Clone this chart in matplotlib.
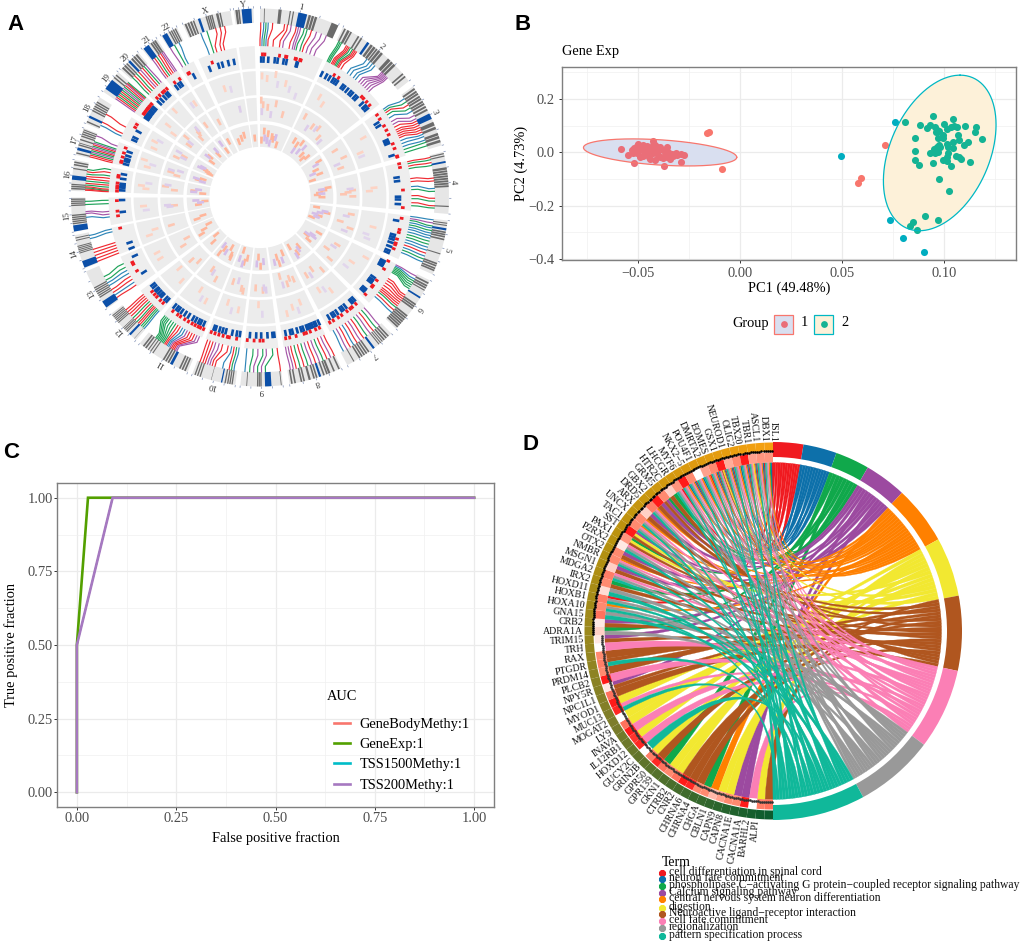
import numpy as np
import matplotlib
matplotlib.use('Agg')
import matplotlib.pyplot as plt
from matplotlib.colors import LinearSegmentedColormap
from matplotlib.patches import Wedge, PathPatch, Rectangle
from matplotlib.path import Path

plt.rcParams['font.family'] = ['Liberation Serif', 'DejaVu Serif']

W, H = 1024, 942

# ---- panel A: chromosomes, sector limits in degrees clockwise from the top
CHROMS = ['1', '2', '3', '4', '5', '6', '7', '8', '9', '10', '11', '12', '13', '14',
          '15', '16', '17', '18', '19', '20', '21', '22', 'X', 'Y']
CHROM_START = [0, 26, 54, 76, 97, 116, 136, 154.5, 173, 187.5, 202.5, 221, 234, 248,
               259.5, 272, 283, 293, 304, 312.5, 321.5, 328.5, 336, 352]
CHROM_END = [24.5, 52, 74, 95, 114, 134, 152.5, 171, 186, 201, 219.5, 232, 247, 258.5,
             270, 281.5, 291.5, 302, 311.5, 320, 327, 334, 351, 358]

# (start %, width %) of the dark bands and the blue bands in each chromosome
IDEO_DARK = {
    '1': [(5, 1), (23, 4), (37, 1.5), (41, 1.5), (61, 3), (65, 3), (69, 3), (91, 9)],
    '2': [(2, 2), (6, 3), (10, 2), (20, 2), (24, 2), (38, 3), (42, 3), (46, 2), (49, 3), (53, 3),
          (64, 4), (69, 3), (73, 3), (88, 2), (92, 2)],
    '3': [(3, 3), (8, 3), (12, 3), (17, 3), (21, 3), (26, 3), (30, 3), (35, 3), (40, 3), (62, 6),
          (70, 4), (80, 4), (85, 4), (91, 4)],
    '4': [(2, 2), (6, 2), (25, 4), (30, 3), (34, 3), (38, 3), (42, 3), (46, 3), (50, 3), (54, 3), (87, 2)],
    '5': [(4, 2), (8, 2), (20, 3), (24, 3), (28, 3), (33, 3), (60, 2), (78, 3), (82, 3), (87, 3), (91, 3)],
    '6': [(4, 3), (9, 3), (13, 3), (18, 2), (46, 3), (50, 3), (54, 3), (70, 3), (74, 3), (78, 3),
          (82, 3), (86, 3), (90, 3), (94, 3)],
    '7': [(6, 3), (11, 3), (16, 3), (21, 2), (25, 2), (29, 2), (52, 3), (57, 3), (62, 3), (67, 3),
          (72, 3), (85, 2)],
    '8': [(3, 3), (13, 3), (22, 4), (27, 3), (33, 3), (47, 3), (52, 3), (60, 4), (71, 3), (76, 3),
          (88, 3), (94, 3)],
    '9': [(3, 2), (50, 3), (54, 3), (58, 3), (84, 2)],
    '10': [(6, 3), (11, 3), (16, 3), (22, 3), (55, 1), (80, 3), (86, 3), (92, 3)],
    '11': [(4, 3), (9, 3), (14, 3), (37, 3), (42, 3), (47, 3), (70, 2), (75, 2), (80, 2), (85, 3), (90, 3)],
    '12': [(6, 1), (33, 3), (38, 3), (43, 3), (48, 2), (67, 3), (72, 3), (77, 3), (82, 3), (87, 3), (92, 3)],
    '13': [(30, 3), (35, 3), (40, 3), (45, 3), (50, 3), (55, 3)],
    '14': [(45, 3), (50, 3), (55, 3), (60, 3), (65, 3), (83, 3), (90, 3)],
    '15': [(22, 4), (28, 4), (34, 4), (40, 4), (46, 4), (75, 4), (81, 4), (87, 4), (93, 4)],
    '16': [(5, 5), (12, 5), (19, 4), (70, 4), (82, 5), (90, 5)],
    '17': [(5, 5), (35, 5), (43, 3), (55, 5), (68, 5), (76, 5), (84, 5), (92, 4)],
    '18': [(5, 5), (47, 5), (55, 5), (63, 5), (71, 5), (79, 5)],
    '19': [(70, 6), (82, 6)],
    '20': [(8, 8), (20, 8), (32, 6), (60, 8), (72, 8), (84, 8)],
    '21': [(55, 10), (68, 10), (80, 10)],
    '22': [(48, 8), (60, 8), (72, 8), (84, 8)],
    'X': [(3, 4), (9, 4), (15, 4), (21, 3), (48, 3), (52, 3), (56, 3), (60, 3), (70, 5), (77, 3)],
    'Y': [(8, 12), (22, 8)],
}
IDEO_BLUE = {
    '1': (48, 11), '2': (33, 3), '3': (48, 9), '4': (15, 3), '5': (14, 4), '6': (32, 3), '7': (40, 4),
    '8': (40, 4), '9': (27, 15), '10': (30, 3), '11': (30, 5), '12': (20, 6), '13': (3, 17), '14': (2, 20),
    '15': (1, 18), '16': (36, 14), '17': (18, 10), '18': (22, 8), '19': (15, 45), '20': (44, 10),
    '21': (8, 35), '22': (6, 30), 'X': (32, 5), 'Y': (40, 50),
}

# connector lines: colour letters, % along the ideogram, % along the bar track
LINK_COLORS = {
    '1': 'rbgbrrrprppggrppp', '2': 'gggrrrggrrrbbbbpppppp', '3': 'bgrgbpprrrrrrbbbgg', '4': 'rgrgrrbgrgrg',
    '5': 'bpgbgbbbggbbrbgb', '6': 'pbgggggrrrrrrrgrb', '7': 'pgrpgrprbrpb', '8': 'rprgprpgrgrpp',
    '9': 'rgpgpgb', '10': 'bgrbrrpprrr', '11': 'pprrrpbbrrggggggg', '12': 'bggrrgrgrrrr',
    '13': 'rbrrbbgg', '14': 'rrrrrbb', '15': 'bppgg', '16': 'rrgrgrgrrgrg',
    '17': 'rrgpgrpgrpgp', '18': 'brr', '19': 'prgrgrgpgrprg', '20': 'grgrprgp',
    '21': 'prgrrpp', '22': 'pgb', 'X': 'bgrrr', 'Y': '',
}
LINK_FROM = {
    '1': [1, 5, 8, 11, 17, 33, 37, 42, 49, 52, 55, 60, 64, 70, 77, 84, 91],
    '2': [3, 5, 7, 14, 16, 18, 20, 23, 25, 27, 29, 45, 50, 54, 58, 70, 72, 74, 76, 78, 80],
    '3': [8, 14, 20, 26, 32, 40, 46, 50, 54, 58, 62, 66, 70, 74, 78, 84, 88, 94],
    '4': [4, 8, 13, 18, 40, 45, 58, 63, 75, 80, 88, 92],
    '5': [2, 8, 14, 18, 23, 28, 33, 38, 44, 50, 56, 62, 68, 74, 80, 86],
    '6': [4, 10, 14, 18, 22, 26, 30, 44, 48, 52, 56, 60, 64, 68, 72, 78, 84],
    '7': [6, 14, 22, 30, 38, 46, 54, 62, 70, 78, 86, 94],
    '8': [2, 10, 18, 26, 34, 42, 50, 58, 66, 74, 82, 88, 94],
    '9': [2, 40, 50, 60, 70, 80, 92],
    '10': [8, 14, 20, 36, 55, 62, 68, 74, 80, 86, 93],
    '11': [35, 38, 41, 44, 47, 50, 53, 56, 59, 62, 65, 68, 71, 74, 77, 80, 83],
    '12': [4, 10, 16, 22, 28, 34, 42, 50, 58, 66, 74, 82],
    '13': [8, 16, 24, 32, 44, 52, 60, 70],
    '14': [5, 15, 25, 35, 45, 80, 90],
    '15': [38, 50, 56, 78, 88],
    '16': [4, 8, 12, 16, 22, 28, 36, 44, 52, 60, 68, 76],
    '17': [5, 12, 18, 24, 30, 36, 42, 48, 54, 60, 66, 90],
    '18': [15, 28, 60],
    '19': [5, 13, 21, 29, 37, 45, 53, 61, 69, 77, 85, 90, 95],
    '20': [10, 22, 34, 46, 58, 70, 80, 90],
    '21': [10, 25, 40, 55, 70, 80, 90],
    '22': [10, 40, 70],
    'X': [28, 42, 62, 72, 82],
    'Y': [],
}
LINK_TO = {
    '1': [0, 3, 6, 9, 12, 20, 30, 35, 45, 50, 53, 56, 62, 66, 72, 78, 85],
    '2': [1, 3, 5, 8, 10, 12, 14, 16, 18, 20, 24, 35, 40, 46, 50, 56, 60, 64, 68, 72, 76],
    '3': [2, 6, 10, 15, 22, 30, 36, 42, 48, 52, 56, 60, 64, 70, 76, 82, 88, 94],
    '4': [2, 6, 11, 16, 36, 42, 52, 58, 70, 76, 84, 90],
    '5': [1, 6, 10, 15, 20, 25, 30, 36, 42, 48, 54, 60, 66, 72, 78, 84],
    '6': [2, 5, 8, 11, 14, 17, 20, 35, 40, 46, 52, 58, 62, 66, 70, 76, 82],
    '7': [4, 12, 20, 28, 36, 44, 52, 60, 68, 76, 84, 92],
    '8': [4, 12, 20, 28, 36, 44, 52, 60, 68, 76, 84, 90, 96],
    '9': [4, 18, 36, 46, 60, 74, 92],
    '10': [3, 10, 17, 24, 34, 50, 60, 70, 78, 86, 94],
    '11': [6, 12, 18, 24, 30, 36, 42, 48, 54, 60, 66, 72, 78, 84, 88, 92, 96],
    '12': [6, 12, 18, 24, 30, 36, 44, 52, 60, 68, 76, 84],
    '13': [6, 16, 26, 36, 46, 56, 66, 78],
    '14': [5, 15, 25, 35, 45, 85, 95],
    '15': [30, 40, 50, 78, 90],
    '16': [2, 5, 8, 12, 20, 28, 36, 44, 55, 65, 78, 90],
    '17': [3, 10, 17, 24, 30, 36, 42, 48, 54, 60, 66, 80],
    '18': [10, 22, 52],
    '19': [4, 12, 20, 28, 36, 44, 52, 60, 68, 76, 84, 90, 96],
    '20': [5, 18, 30, 44, 56, 68, 80, 92],
    '21': [5, 20, 35, 50, 65, 80, 92],
    '22': [15, 40, 60],
    'X': [30, 42, 50, 62, 70],
    'Y': [],
}

# bar track, % along each chromosome
BARS_BLUE = {
    '1': [2, 6, 14, 25, 30, 40, 45, 62, 64], '2': [2, 10, 16, 22, 26, 30, 40, 44, 50, 56, 60, 66, 70, 82, 88, 90, 94],
    '3': [18, 25, 58, 62, 66, 92], '4': [30, 38, 72, 78, 88], '5': [15, 50, 56, 62, 70, 80, 90, 96],
    '6': [6, 10, 14, 18, 50, 56, 60, 64, 82, 86, 90], '7': [8, 14, 18, 36, 44, 50, 62, 70, 76, 86],
    '8': [2, 10, 14, 20, 25, 30, 35, 44, 50, 60, 72, 78, 90], '9': [8, 14, 30, 50, 66, 86],
    '10': [6, 16, 30, 50, 60, 70, 82, 88], '11': [8, 16, 22, 30, 38, 50, 60, 70, 78, 84, 92],
    '12': [8, 18, 34, 42, 52, 62, 68, 80, 90], '13': [25, 85], '14': [5, 28], '15': [43, 90],
    '16': [10, 22, 30, 38, 60, 80], '17': [10, 24, 30, 36, 52, 72], '18': [15, 28, 60],
    '19': [10, 18, 28, 38, 50, 60, 72, 84], '20': [10, 30, 52, 70, 82], '21': [25, 50, 70], '22': [55],
    'X': [18, 44, 55, 72, 88], 'Y': [],
}
BARS_RED = {
    '1': [4, 8, 32, 42, 44, 58, 60, 66, 68], '2': [20, 28, 74, 78, 85, 92], '3': [4, 14, 30, 40, 50, 70, 80, 96, 98],
    '4': [2, 10, 58, 95], '5': [8, 35, 42, 58, 68, 72, 82], '6': [2, 22, 52, 66, 70, 92],
    '7': [12, 24, 30, 40, 56, 66, 80, 90], '8': [6, 16, 30, 40, 46, 66, 82, 92], '9': [44, 54, 72, 93],
    '10': [14, 36, 42, 55, 68, 80, 92], '11': [4, 12, 18, 26, 34, 44, 54, 66, 74, 88], '12': [14, 28, 46, 58, 72],
    '13': [40, 63, 70], '14': [92], '15': [30, 48, 88], '16': [6, 18, 28, 40, 65, 72],
    '17': [14, 20, 40, 60, 85], '18': [70, 85], '19': [22, 32, 44, 56, 64, 76, 90], '20': [20, 40, 62, 75, 92],
    '21': [35, 80], '22': [25, 35], 'X': [30], 'Y': [],
}

# heat tracks: (track, % along chromosome, radial level 0-10)
HEAT_SALMON = {
    '1': [(1, 4, 8), (1, 14, 7), (1, 30, 9), (1, 52, 6), (2, 3, 9), (2, 8, 7), (2, 20, 6), (2, 40, 8), (3, 6, 3), (3, 15, 7),
          (3, 30, 6), (3, 45, 5), (3, 52, 4), (3, 70, 2), (2, 62, 4)],
    '2': [(1, 18, 6), (1, 30, 4), (2, 12, 7), (2, 40, 5), (2, 55, 6), (2, 70, 3), (3, 20, 7), (3, 34, 6), (3, 45, 8), (3, 70, 4),
          (3, 82, 3), (3, 90, 5)],
    '3': [(1, 30, 7), (1, 60, 3), (2, 20, 5), (2, 52, 7), (2, 80, 4), (3, 22, 8), (3, 50, 5), (3, 72, 6), (3, 90, 2)],
    '4': [(1, 48, 5), (1, 56, 3), (2, 50, 7), (2, 56, 5), (2, 62, 3), (2, 70, 7), (3, 30, 8), (3, 40, 6), (3, 50, 4), (3, 60, 3),
          (3, 72, 5)],
    '5': [(1, 45, 6), (2, 20, 7), (2, 55, 3), (2, 70, 8), (3, 15, 3), (3, 36, 8), (3, 60, 5), (3, 80, 2)],
    '6': [(1, 20, 8), (1, 50, 4), (2, 30, 6), (2, 62, 3), (2, 85, 7), (3, 28, 8), (3, 70, 4), (3, 84, 6)],
    '7': [(1, 40, 6), (1, 70, 3), (2, 20, 8), (2, 50, 5), (2, 80, 6), (3, 34, 5), (3, 60, 7), (3, 82, 3)],
    '8': [(1, 28, 4), (1, 55, 5), (1, 75, 7), (2, 20, 5), (2, 35, 4), (2, 48, 6), (2, 70, 2), (3, 22, 4), (3, 55, 8), (3, 60, 5)],
    '9': [(1, 60, 2), (2, 40, 7), (2, 75, 6), (3, 50, 8), (3, 65, 4)],
    '10': [(1, 25, 5), (1, 70, 3), (2, 20, 8), (2, 30, 7), (2, 75, 5), (3, 30, 5), (3, 45, 7), (3, 70, 2)],
    '11': [(1, 30, 6), (1, 60, 3), (2, 35, 7), (2, 65, 4), (3, 20, 7), (3, 25, 6), (3, 40, 3), (3, 70, 5), (3, 80, 8)],
    '12': [(1, 20, 5), (1, 70, 2), (2, 25, 5), (2, 60, 7), (3, 50, 6), (3, 80, 3)],
    '13': [(1, 35, 6), (1, 60, 6), (2, 30, 6), (2, 55, 3), (3, 30, 8), (3, 50, 6), (3, 70, 3)],
    '14': [(1, 30, 6), (1, 50, 3), (2, 45, 7), (3, 30, 7), (3, 45, 4)],
    '15': [(1, 60, 6), (2, 50, 4), (3, 38, 5), (3, 65, 2)],
    '16': [(1, 25, 5), (1, 40, 7), (2, 30, 4), (2, 50, 8), (3, 20, 3), (3, 40, 7)],
    '17': [(1, 25, 6), (1, 60, 8), (2, 20, 4), (2, 35, 7), (3, 35, 6), (3, 55, 4)],
    '18': [(1, 20, 6), (1, 55, 7), (2, 30, 7), (2, 60, 4), (3, 20, 2), (3, 30, 3), (3, 38, 4), (3, 46, 5)],
    '19': [(1, 30, 2), (1, 55, 6), (2, 30, 5), (2, 70, 8), (3, 30, 4), (3, 70, 6)],
    '20': [(1, 40, 8), (2, 35, 3), (2, 60, 6), (2, 50, 5), (3, 45, 4)],
    '21': [(1, 70, 5), (2, 30, 6), (3, 60, 3)],
    '22': [(2, 55, 4), (3, 40, 6)],
    'X': [(1, 40, 5), (3, 22, 4), (3, 45, 5), (3, 65, 6)],
    'Y': [(3, 50, 4)],
}
HEAT_LAVENDER = {
    '1': [(1, 36, 5), (1, 62, 4), (1, 78, 2), (2, 5, 4), (2, 30, 3), (3, 18, 4), (3, 28, 3), (3, 40, 2), (3, 60, 5)],
    '2': [(2, 30, 3), (2, 50, 5), (2, 80, 2), (3, 35, 3), (3, 52, 4), (3, 60, 7)],
    '3': [(1, 70, 3), (2, 65, 3), (3, 30, 6), (3, 62, 3)],
    '4': [(2, 45, 6), (3, 35, 5), (3, 55, 5)],
    '5': [(1, 70, 4), (1, 82, 5), (2, 30, 5), (2, 85, 6), (3, 30, 7), (3, 42, 5), (3, 55, 3), (3, 70, 4)],
    '6': [(1, 70, 3), (2, 42, 5), (3, 50, 6), (3, 58, 7), (3, 62, 4)],
    '7': [(1, 55, 4), (2, 65, 7), (3, 45, 6), (3, 70, 8)],
    '8': [(1, 40, 7), (2, 65, 6), (3, 35, 7), (3, 78, 7)],
    '9': [(1, 45, 6), (2, 25, 7), (2, 35, 6), (3, 30, 6), (3, 75, 7)],
    '10': [(1, 50, 6), (2, 50, 4), (3, 55, 8), (3, 80, 6)],
    '11': [(1, 45, 6), (2, 55, 5), (3, 55, 6), (3, 85, 4)],
    '15': [(1, 40, 5), (2, 45, 6), (2, 55, 7), (3, 55, 4), (3, 75, 6)],
    '16': [(1, 55, 4), (2, 60, 7), (3, 30, 7), (3, 55, 5)],
    '17': [(1, 45, 4), (2, 50, 7), (2, 60, 3), (3, 45, 7), (3, 25, 4)],
    '18': [(1, 70, 5), (2, 45, 4), (2, 70, 7), (3, 40, 7), (3, 55, 6)],
    '19': [(2, 55, 5), (3, 55, 7)],
    '20': [(2, 65, 7), (3, 60, 6)],
    '21': [(1, 40, 5), (3, 45, 7)],
    'X': [(1, 60, 4), (2, 75, 6)],
}

# ---- panel B: PCA scores
G1_IN_X = [-.0582, -.0549, -.0531, -.052, -.0498, -.049, -.0474, -.0458, -.0425, -.0428, -.0408, -.0392, -.0359, -.0376,
           -.0351, -.0315, -.0289, -.0275, -.0291, -.0343, -.0327, -.0417, -.0444, -.0474, -.0507, -.0523, -.049, -.0458,
           -.0433, -.0408, -.0392, -.0368, -.0449, -.0466, -.0482, -.0425, -.04, -.0376, -.0359, -.0335, -.031, -.0515,
           -.0441, -.0503, -.0417, -.0521, -.0374]
G1_IN_Y = [.014, -.011, .009, .015, .031, .009, .0275, .024, .0425, .0275, .021, .019, .021, .009,
           .0025, -.001, -.0075, -.01, -.035, -.026, -.014, -.029, -.016, -.014, -.004, -.004, -.016, .0025,
           .009, .0025, -.016, -.01, .015, -.004, .015, -.004, -.01, -.0225, -.016, -.006, -.01, .0025,
           -.026, .024, .0275, -.039, -.05]
G1_OUT_X = [-.016, -.0154, -.009, .0711, .0593, .0578]
G1_OUT_Y = [.071, .0775, -.0625, .0275, -.095, -.115]
G2_IN_X = [.0948, .1042, .0809, .0882, .0918, .0931, .0954, .0964, .1002, .0977, .1016, .1033, .1049, .1065, .1105, .1157,
           .115, .1186, .0858, .0961, .0997, .1069, .0971, .0993, .1075, .1116, .1098, .1046, .1013, .0977, .0964, .0951,
           .098, .1021, .1042, .102, .0859, .0931, .0956, .0969, .1059, .1072, .1082, .1126, .0858, .0879, .0948, .0993,
           .1013, .1033, .1016, .0975, .1025, .0907, .0972, .085, .0835, .0866]
G2_IN_Y = [.136, .125, .1125, .101, .0925, .101, .096, .084, .1075, .081, .086, .094, .0975, .095, .1, .096,
           .076, .051, .0525, .076, .065, .064, .0525, .054, .045, .04, .0275, .039, .031, .0275, .019, .011,
           .021, .021, .016, -.004, .004, -.004, -.004, .0025, -.0125, -.019, -.026, -.035, -.03, -.049, -.04, -.0275,
           -.031, -.051, -.016, -.1, -.146, -.239, -.254, -.259, -.276, -.29]
G2_OUT_X = [.0761, .0734, .0797, .0904, .0493]
G2_OUT_Y = [.115, -.2525, -.321, -.3725, -.015]

# ---- panel C: ROC curves
ROC_NAMES = ['GeneBodyMethy:1', 'GeneExp:1', 'TSS1500Methy:1', 'TSS200Methy:1']
ROC_COLORS = ['#f8766d', '#53a000', '#00bcc8', '#a678c0']
ROC_X = [[0, 0, .09, 1], [0, 0, .028, 1], [0, 0, .09, 1], [0, 0, .09, 1]]
ROC_Y = [[0, .5, 1, 1], [0, .5, 1, 1], [0, .5, 1, 1], [0, .5, 1, 1]]

# ---- panel D: chord diagram, genes listed from the bottom clockwise
GENES = ['ALPI', 'BARHL2', 'CACNA1A', 'CACNA1E', 'CAPN8', 'CAPN9', 'CBLN1', 'CHGA', 'CHRNA4', 'CHRNA6', 'CNR2', 'CTRB2',
         'GKN1', 'GPR139', 'GPR50', 'GRIN2B', 'GUCY2C', 'HOXD12', 'IL12RB1', 'INAVA', 'LY9', 'MOGAT2', 'MUC13', 'MYOD1',
         'NPC1L1', 'NPY5R', 'PLCB2', 'PRDM14', 'PTGDR', 'RAX', 'TRH', 'TRIM15', 'ADRA1A', 'CRB2', 'GNA15', 'HOXA10',
         'HOXB1', 'HOXD11', 'IRX2', 'MDGA2', 'MSGN1', 'NMBR', 'OTX2', 'P2RX2', 'PAX1', 'SST', 'TAC1', 'UNCX', 'ARX',
         'DRD5', 'GBX2', 'GRM5', 'HTR2C', 'LHCGR', 'MYF6', 'NKX2\u22125', 'POU4F1', 'DMRTA2', 'EOMES', 'GSX1', 'NEUROD1',
         'OLIG2', 'TBX20', 'TBR1', 'ASCL1', 'DBX1', 'ISL1']
# terms hit by each gene, digits index TERMS
GENE_TERMS = ['6', '5', '7', '3', '3', '5', '5', '4', '2', '6', '6', '6',
              '5', '5', '2', '6', '5', '9', '7', '5', '7', '5', '5', '79',
              '5', '6', '36', '7', '6', '69', '6', '7', '36', '28', '36', '89',
              '489', '089', '89', '26', '789', '36', '4789', '36', '789', '256', '356', '4789', '4789',
              '36', '4789', '36', '236', '26', '0789', '14789', '014789', '14789', '04789', '014789', '01456789',
              '014789', '14789', '014789', '0145789', '014789', '0124789']
LOGFC = [.6, .55, 1, .95, .5, .5, .4, .3, .5, .5, .9, .95, .6, .5, .6, .9, .55, 1, .9, .85, .95, .6, 1, .9,
         .95, .6, .1, .95, .5, .55, .5, 1, .1, .2, .1, .6, .5, .55, .15, .5, .55, .2, .5, .5, .1, .45, .95, .5, .5,
         .2, .55, .95, .5, .2, .45, .95, .5, 1, .4, .5, .95, .35, .5, .95, .4, .45, .45]
TERMS = ['cell differentiation in spinal cord', 'neuron fate commitment',
         'phospholipase C\u2212activating G protein\u2212coupled receptor signaling pathway',
         'Calcium signaling pathway', 'central nervous system neuron differentiation', 'digestion',
         'Neuroactive ligand\u2212receptor interaction', 'cell fate commitment', 'regionalization',
         'pattern specification process']
TERM_COLORS = ['#f01a20', '#0d70aa', '#10a84b', '#9c4aa0', '#ff8000', '#f2e831', '#b0561f', '#fb7fb5', '#999999', '#10b89a']
TERM_EDGES = [0, 9.3, 19.6, 30.1, 43, 61, 79.2, 102.2, 127, 151.5, 180]


def px_axes(fig, left, top, right, bottom):
    return fig.add_axes([left / W, 1 - bottom / H, (right - left) / W, (bottom - top) / H])


def polar(theta, r):
    t = np.radians(theta)
    return r * np.sin(t), r * np.cos(t)


def sector(ax, t0, t1, r0, r1, color, zorder=1):
    # angles run clockwise from the top, Wedge wants them counter clockwise from east
    ax.add_patch(Wedge((0, 0), r1, 90 - t1, 90 - t0, width=r1 - r0, facecolor=color, lw=0, zorder=zorder))


def style_ggplot(ax):
    for s in ax.spines.values():
        s.set_color('#7f7f7f')
        s.set_linewidth(1.0)
    ax.grid(True, which='major', color='#ebebeb', lw=0.9)
    ax.grid(True, which='minor', color='#f0f0f0', lw=0.5)
    ax.set_axisbelow(True)
    ax.tick_params(which='major', length=2.2, width=0.7, color='#333333', labelcolor='#4d4d4d', labelsize=10.4, pad=1.5)
    ax.tick_params(which='minor', length=0)


def draw_circos(ax):
    colors = {'r': '#ef2b33', 'b': '#2f86b8', 'g': '#1fa35a', 'p': '#a557a8'}
    radii = [(126.4, 102.4), (99.7, 76.7), (73.3, 50.6)]
    salmon = {1: '#fdd3c4', 2: '#fdc6b2', 3: '#ffb59a'}
    lavender = {1: '#e2d6ec', 2: '#ddcdea', 3: '#d5bee8'}
    for i, c in enumerate(CHROMS):
        t0, t1 = CHROM_START[i], CHROM_END[i]
        span = t1 - t0

        def ang(p):
            return t0 + span * p / 100.0

        sector(ax, t0, t1, 174.7, 189, '#e6e6e6')
        for p, w in IDEO_DARK[c]:
            sector(ax, ang(p), ang(p + w), 174.7, 189, '#6b6b6b', 2)
        p, w = IDEO_BLUE[c]
        sector(ax, ang(p), ang(p + w), 174.7, 189, '#0b4fa8', 3)

        # small ticks around the ideogram
        for p in [0, 25, 50, 75, 100]:
            ax.plot(*polar(np.array([ang(p), ang(p)]), np.array([189.5, 191])), color='#7f8fb5', lw=0.5)
        x, y = polar((t0 + t1) / 2, 194)
        ax.text(x, y, c, fontsize=6.5, color='#333333', ha='center', va='center',
                rotation=-(t0 + t1) / 2, rotation_mode='anchor')

        for col, a, b in zip(LINK_COLORS[c], LINK_FROM[c], LINK_TO[c]):
            lx, ly = polar(np.array([ang(a), ang(a), ang(b), ang(b)]), np.array([174.5, 169, 158, 152]))
            ax.plot(lx, ly, color=colors[col], lw=0.85, solid_joinstyle='round')

        sector(ax, t0, t1, 129, 151.5, '#eeeeee')
        half = 0.55
        for p in BARS_BLUE[c]:
            sector(ax, ang(p) - half, ang(p) + half, 134.7, 141.3, '#0b4fa8', 3)
        for p in BARS_RED[c]:
            sector(ax, ang(p) - half, ang(p) + half, 141.3, 145, '#f01c24', 4)

        for r1, r0 in radii:
            sector(ax, t0, t1, r0, r1, '#ececec')
        for marks, shades in [(HEAT_SALMON.get(c, []), salmon), (HEAT_LAVENDER.get(c, []), lavender)]:
            for track, p, lev in marks:
                r1, r0 = radii[track - 1]
                rm = r0 + (r1 - r0) * lev / 10.0
                # same tangential size on every track, about 2.6 px
                half_t = np.degrees(1.3 / rm)
                sector(ax, ang(p) - half_t, ang(p) + half_t, rm - 3.5, rm + 3.5, shades[track], 3)
    ax.set_xlim(-200, 200)
    ax.set_ylim(-200, 200)
    ax.axis('off')


def ellipse_xy(cx, cy, ax_, ay, bx, by):
    t = np.linspace(0, 2 * np.pi, 200)
    return cx + ax_ * np.cos(t) + bx * np.sin(t), cy + ay * np.cos(t) + by * np.sin(t)


def draw_pca(ax):
    ex, ey = ellipse_xy(-.0392, -.0006, .03758, -.0181, 0, .0473)
    ax.fill(ex, ey, facecolor='#d9dff0', edgecolor='none', zorder=2)
    ax.scatter(G1_IN_X, G1_IN_Y, s=26, color='#ea6e78', lw=0, zorder=3)
    ax.plot(ex, ey, color='#f8766d', lw=0.9, zorder=4)
    ax.scatter(G1_OUT_X, G1_OUT_Y, s=26, color='#f8766d', lw=0, zorder=3)

    ex, ey = ellipse_xy(.0979, -.0025, .00997, .291, .02575, 0)
    ax.fill(ex, ey, facecolor='#fdf1d9', edgecolor='none', zorder=2)
    ax.scatter(G2_IN_X, G2_IN_Y, s=26, color='#14b394', lw=0, zorder=3)
    ax.plot(ex, ey, color='#00b8c4', lw=0.9, zorder=4)
    ax.scatter(G2_OUT_X, G2_OUT_Y, s=26, color='#00adc0', lw=0, zorder=3)

    ax.set_xlim(-.0873, .1353)
    ax.set_ylim(-.403, .319)
    ax.set_xticks([-.05, 0, .05, .10])
    ax.set_xticklabels(['\u22120.05', '0.00', '0.05', '0.10'])
    ax.set_xticks([-.075, -.025, .025, .075, .125], minor=True)
    ax.set_yticks([-.4, -.2, 0, .2])
    ax.set_yticklabels(['\u22120.4', '\u22120.2', '0.0', '0.2'])
    ax.set_yticks([-.3, -.1, .1, .3], minor=True)
    style_ggplot(ax)
    ax.tick_params(axis='x', which='major', pad=2.5)
    ax.tick_params(axis='y', which='major', pad=3.5)
    ax.set_xlabel('PC1 (49.48%)', fontsize=10.4, labelpad=1.5)
    ax.set_ylabel('PC2 (4.73%)', fontsize=10.4, labelpad=0)
    ax.set_title('Gene Exp', loc='left', fontsize=10.4, pad=8.5)


def draw_roc(ax):
    # the hidden curves stay thinner so their colour does not bleed round the purple one
    widths = [1.0, 1.9, 1.0, 1.9]
    for x, y, col, name, lw in zip(ROC_X, ROC_Y, ROC_COLORS, ROC_NAMES, widths):
        ax.plot(x, y, color=col, lw=lw, label=name, solid_joinstyle='miter')
    ax.set_xlim(-.05, 1.05)
    ax.set_ylim(-.05, 1.05)
    ticks = [0, .25, .5, .75, 1]
    ax.set_xticks(ticks)
    ax.set_xticklabels(['%.2f' % v for v in ticks])
    ax.set_yticks(ticks)
    ax.set_yticklabels(['%.2f' % v for v in ticks])
    ax.set_xticks([.125, .375, .625, .875], minor=True)
    ax.set_yticks([.125, .375, .625, .875], minor=True)
    style_ggplot(ax)
    ax.tick_params(axis='y', which='major', pad=0.8)
    ax.set_xlabel('False positive fraction', fontsize=10.4, labelpad=4.5)
    ax.set_ylabel('True positive fraction', fontsize=10.4, labelpad=7)
    leg = ax.legend(loc='lower left', bbox_to_anchor=(0.604, 0.007), frameon=False, fontsize=10.4,
                    handlelength=1.1, handletextpad=0.65, labelspacing=0.5)
    for line in leg.get_lines():
        line.set_linewidth(1.9)


def ribbon(ax, g0, g1, t0, t1, color, zorder):
    r = 168.5
    gs = np.linspace(g0, g1, 5)
    ts = np.linspace(t0, t1, 5)
    verts, codes = [], []
    for i, a in enumerate(gs):
        verts.append(polar(a, r))
        codes.append(Path.MOVETO if i == 0 else Path.LINETO)
    verts += [(0, 0), polar(ts[0], r)]
    codes += [Path.CURVE3, Path.CURVE3]
    for a in ts[1:]:
        verts.append(polar(a, r))
        codes.append(Path.LINETO)
    verts += [(0, 0), polar(g0, r)]
    codes += [Path.CURVE3, Path.CURVE3]
    # thin same colour edge closes the seams between neighbouring ribbons
    ax.add_patch(PathPatch(Path(verts, codes), facecolor=color, edgecolor=color, lw=0.2, zorder=zorder))


def draw_chord(ax):
    n = len(GENES)
    step = 180.0 / n
    lfc_cmap = LinearSegmentedColormap.from_list('lfc', ['#ffffff', '#ff8a70', '#ff1010'])
    ring_cmap = LinearSegmentedColormap.from_list('ring', ['#0c5c2e', '#7d7d2a', '#b8920f', '#f5a010'])

    # which slot of each term belongs to which gene
    links = {k: [] for k in range(len(TERMS))}
    for g, terms in enumerate(GENE_TERMS):
        for j, digit in enumerate(reversed(terms)):
            links[int(digit)].append((g, j, len(terms)))

    for k in range(len(TERMS)):
        t0, t1 = TERM_EDGES[k], TERM_EDGES[k + 1]
        sector(ax, t0, t1, 174, 189, TERM_COLORS[k], 5)
        # slots are not in gene order in the original, ribbons cross and leave white slits
        rows = sorted(links[k], key=lambda v: (v[0] * 29) % n)
        dt = (t1 - t0) / len(rows)
        for s, (g, j, cnt) in enumerate(rows):
            g0 = 180 + g * step + j * step / cnt
            ribbon(ax, g0, g0 + step / cnt, t0 + s * dt, t0 + (s + 1) * dt, TERM_COLORS[k], 2 + k * 0.1)

    for g, name in enumerate(GENES):
        a0 = 180 + g * step
        sector(ax, a0, a0 + step, 179.5, 188.5, ring_cmap(g / (n - 1)), 5)
        sector(ax, a0, a0 + step, 168.5, 178.5, lfc_cmap(LOGFC[g]), 5)
        rd = 180 if g > 32 else 171
        x, y = polar(a0 + step * np.array([0.125, 0.375, 0.625, 0.875]), rd)
        ax.scatter(x, y, s=3.5, color='black' if g > 32 else '#333333', lw=0, zorder=6)
        # labels fan out a little tighter than the ring itself
        mid = 185 + g * 175.0 / (n - 1)
        x, y = polar(mid, 189.5)
        rot = np.degrees(np.arctan2(-np.cos(np.radians(mid)), -np.sin(np.radians(mid))))
        ax.text(x, y, name, fontsize=7.1, color='#111111', ha='right', va='center', rotation=rot,
                rotation_mode='anchor', zorder=7)
    ax.set_xlim(-220, 220)
    ax.set_ylim(-220, 220)
    ax.axis('off')


fig = plt.figure(figsize=(W / 100, H / 100), dpi=100, facecolor='white')

draw_circos(px_axes(fig, 60, -2.5, 460, 397.5))
draw_pca(px_axes(fig, 562, 67, 1016, 260))
draw_roc(px_axes(fig, 57, 483, 494, 807))
draw_chord(px_axes(fig, 553, 411, 993, 851))

# panel letters and the hand placed legends live on a pixel sized overlay
top = fig.add_axes([0, 0, 1, 1], facecolor='none')
top.set_xlim(0, W)
top.set_ylim(H, 0)
top.axis('off')

for letter, x, y in [('A', 7, 25), ('B', 514, 25), ('C', 3, 452), ('D', 523, 444)]:
    top.text(x, y, letter, fontsize=16, fontweight='bold', family='Liberation Sans', va='center', ha='left')

top.text(327, 697, 'AUC', fontsize=10.4, va='center')

top.text(732, 324, 'Group', fontsize=10.4, va='center')
for x0, fill, edge, dot, label in [(774, '#d9dff0', '#f8766d', '#ea6e78', '1'), (814, '#fdf1d9', '#00b8c4', '#14b394', '2')]:
    top.add_patch(Rectangle((x0, 314.5), 19, 19, facecolor=fill, edgecolor=edge, lw=0.9))
    top.scatter([x0 + 9.5], [324], s=24, color=dot, lw=0, zorder=3)
    top.text(x0 + 27, 323, label, fontsize=10.4, va='center')

top.text(662, 862, 'Term', fontsize=10, va='center')
ROW_Y = [871.7, 878.3, 885, 891.7, 898.3, 906.7, 913.3, 920, 926.7, 935]
for term, col, y in zip(TERMS, TERM_COLORS, ROW_Y):
    top.scatter([662], [y + 1], s=30, marker='8', color=col, lw=0)
    top.text(669, y, term, fontsize=8.4, va='center', color='#111111')

fig.savefig('out.png', dpi=100)
